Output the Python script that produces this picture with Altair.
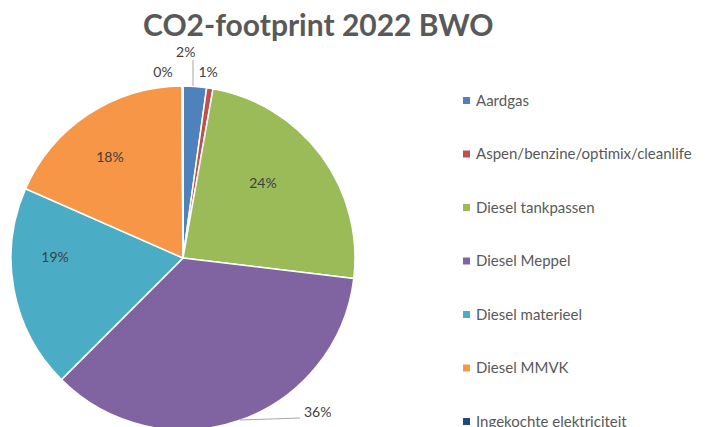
import altair as alt
import pandas as pd

categories = ["Aardgas", "Aspen/benzine/optimix/cleanlife", "Diesel tankpassen",
              "Diesel Meppel", "Diesel materieel", "Diesel MMVK", "Ingekochte elektriciteit"]
values = [2.2, 0.6, 24.1, 35.6, 19.1, 18.3, 0.1]
pct_labels = ["2%", "1%", "24%", "36%", "19%", "18%", "0%"]
colors = ["#4F81BD", "#C0504D", "#9BBB59", "#8064A2", "#4BACC6", "#F79646", "#1F497D"]

df = pd.DataFrame({
    "category": categories,
    "value": values,
    "label": pct_labels,
    "order": list(range(len(categories))),
})

CX, CY, R = 175, 202, 172
FONT = "Lato"

pie = alt.Chart(df).mark_arc(outerRadius=R, stroke="white", strokeWidth=1.5).encode(
    theta=alt.Theta("value:Q", stack=True),
    order=alt.Order("order:Q"),
    x=alt.value(CX), y=alt.value(CY),
    color=alt.Color("category:N",
                    scale=alt.Scale(domain=categories, range=colors),
                    sort=categories,
                    legend=alt.Legend(title=None, orient="none", legendX=451, legendY=37,
                                      symbolType="square", symbolSize=49,
                                      labelFont=FONT, labelFontSize=15, labelColor="#595959",
                                      rowPadding=37.5, padding=0, labelOffset=2,
                                      labelLimit=400, symbolStrokeWidth=0)),
)

# midpoint fraction of every slice, computed before filtering
lab_base = alt.Chart(df).transform_window(
    cum="sum(value)", sort=[alt.SortField("order")], frame=[None, 0]
).transform_joinaggregate(total="sum(value)").transform_calculate(
    mid="(datum.cum - datum.value / 2) / datum.total"
)

# label placement: (radius px, theta offset in degrees)
label_place = {
    "Aardgas": (205, -3.2),
    "Aspen/benzine/optimix/cleanlife": (187, -1.3),
    "Diesel tankpassen": (109, -6.3),
    "Diesel Meppel": (205, -22),
    "Diesel materieel": (128, 10.6),
    "Diesel MMVK": (124, -2.8),
    "Ingekochte elektriciteit": (186, -6),
}

label_layers = []
for cat, (rad, off) in label_place.items():
    label_layers.append(
        lab_base.mark_text(font=FONT, fontSize=14, color="#404040", align="center",
                           baseline="middle", thetaOffset=off * 3.14159265 / 180)
        .encode(x=alt.value(CX), y=alt.value(CY), radius=alt.value(rad),
                theta=alt.Theta("mid:Q", stack=None, scale=alt.Scale(domain=[0, 1])),
                text="label:N")
        .transform_filter(alt.datum.category == cat)
    )
labels = alt.layer(*label_layers)

# leader lines
leaders = pd.DataFrame({"x": [185, 232], "y": [4, 364], "x2": [185, 292], "y2": [30, 362]})
lines = alt.Chart(leaders).mark_rule(color="#A6A6A6", strokeWidth=1).encode(
    x=alt.X("x:Q", scale=None), y=alt.Y("y:Q", scale=None),
    x2="x2:Q", y2="y2:Q")

chart = alt.layer(pie, labels, lines).resolve_scale(theta="independent").properties(
    width=707, height=380,
    autosize="none",
    padding={"left": 0, "top": 48, "right": 0, "bottom": 0},
    title=alt.TitleParams("CO2-footprint 2022 BWO", font=FONT, fontSize=30, fontWeight="bold",
                          color="#595959", anchor="start", dx=135, dy=38, offset=18,
                          baseline="alphabetic"),
).configure_view(stroke=None)

chart.save("out.html", embed_options={"renderer": "svg", "actions": False})
